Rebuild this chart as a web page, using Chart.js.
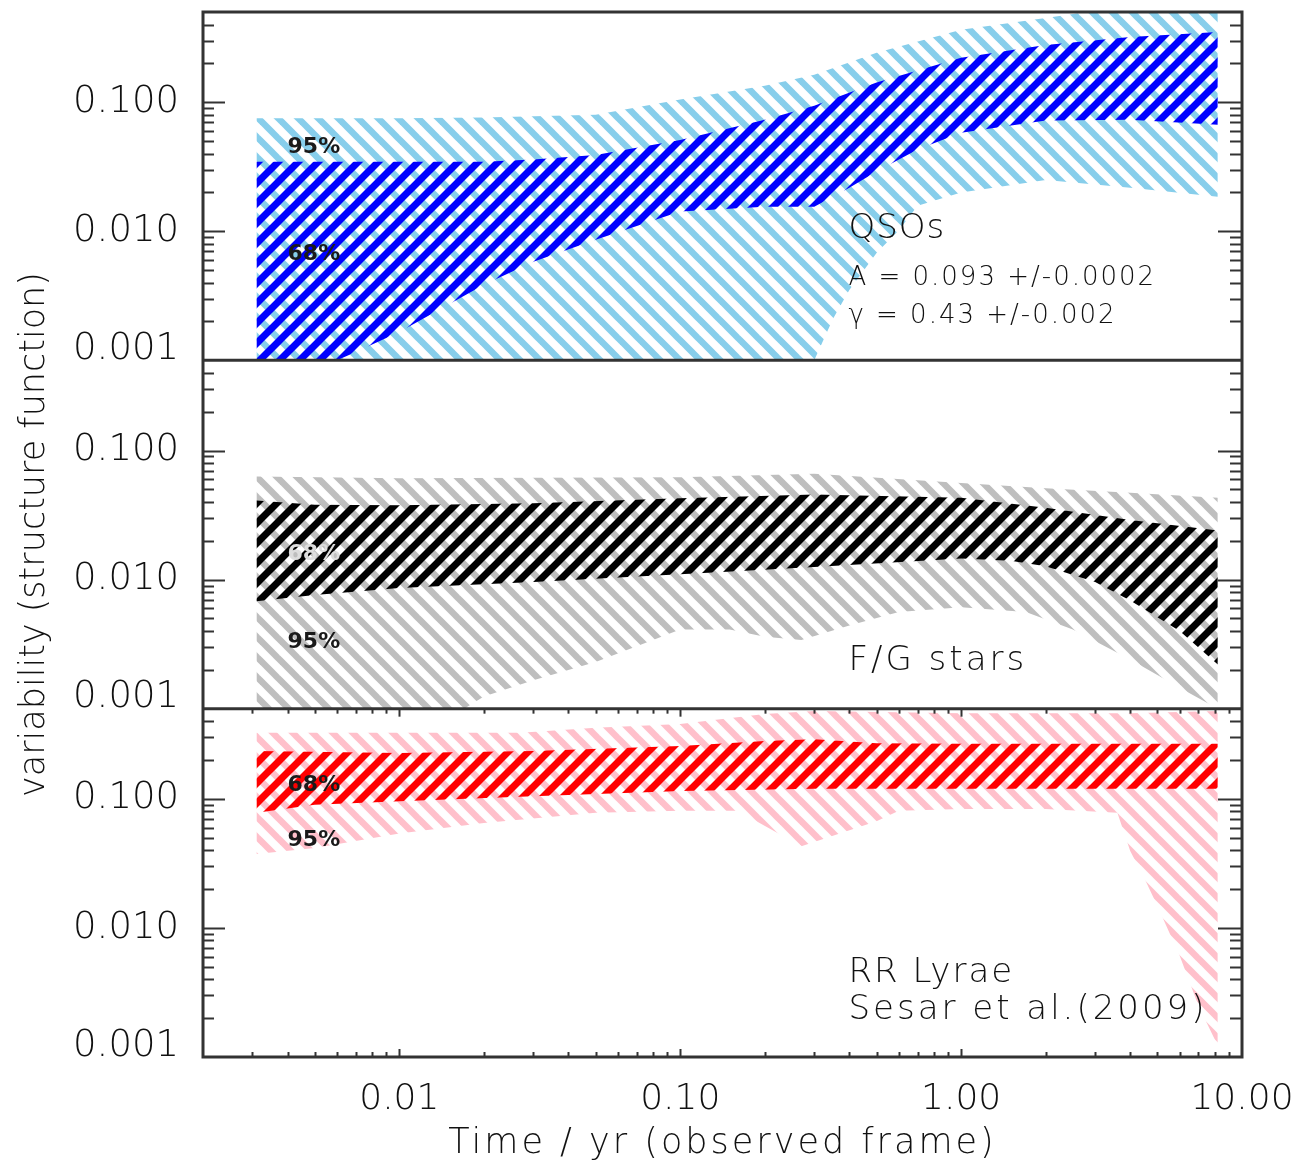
<!DOCTYPE html>
<html><head><meta charset="utf-8">
<script src="https://cdn.jsdelivr.net/npm/chart.js@4"></script>
<style>html,body{margin:0;padding:0;background:#fff}</style>
</head><body>
<canvas id="c" width="1300" height="1162"></canvas>
<script>
// ---------------- data ----------------
const xTickValues = [0.01, 0.1, 1, 10];
const xTickLabels = ['0.01', '0.10', '1.00', '10.00'];
const yTickValues = [0.001, 0.01, 0.1];
const yTickLabels = ['0.001', '0.010', '0.100'];
const X_MIN = 0.002, X_MAX = 10, Y_MIN = 0.001, Y_MAX = 0.5;

// QSOs
const qso95UpperT = [0.0031, 0.01, 0.02, 0.05, 0.1, 0.2, 0.3, 0.5, 1, 2, 2.8, 8.2];
const qso95UpperV = [0.075, 0.075, 0.076, 0.080, 0.105, 0.134, 0.163, 0.242, 0.365, 0.45, 0.5, 0.5];
const qso95LowerT = [0.0031, 0.3, 0.35, 0.4, 0.5, 0.6, 0.7, 1, 2, 4, 8.2];
const qso95LowerV = [0.001, 0.001, 0.0021, 0.0035, 0.0068, 0.0102, 0.0158, 0.020, 0.025, 0.0217, 0.0185];
const qso68UpperT = [0.0031, 0.02, 0.03, 0.05, 0.1, 0.2, 0.3, 0.5, 1, 2, 4, 8.2];
const qso68UpperV = [0.0346, 0.0346, 0.036, 0.039, 0.051, 0.073, 0.094, 0.142, 0.221, 0.278, 0.32, 0.35];
const qso68LowerT = [0.0031, 0.006, 0.007, 0.01, 0.02, 0.03, 0.05, 0.1, 0.2, 0.3, 0.4, 0.5, 0.7, 1, 2, 4, 8.2];
const qso68LowerV = [0.001, 0.001, 0.00116, 0.00166, 0.00385, 0.0058, 0.0086, 0.0142, 0.0155, 0.0155, 0.0217, 0.029, 0.043, 0.058, 0.072, 0.073, 0.067];

// F/G stars
const fg95UpperT = [0.0031, 0.01, 0.1, 0.3, 1, 2, 4, 8.2];
const fg95UpperV = [0.063, 0.061, 0.062, 0.066, 0.056, 0.051, 0.047, 0.043];
const fg95LowerT = [0.0031, 0.017, 0.02, 0.03, 0.05, 0.08, 0.1, 0.15, 0.2, 0.27, 0.4, 0.6, 1, 1.7, 2.5, 4, 6, 8.2];
const fg95LowerV = [0.001, 0.001, 0.00124, 0.00166, 0.0023, 0.0034, 0.0041, 0.0041, 0.0036, 0.0034, 0.0044, 0.0056, 0.0061, 0.0056, 0.0041, 0.0024, 0.00145, 0.001];
const fg68UpperT = [0.0031, 0.005, 0.01, 0.03, 0.1, 0.3, 1, 2, 4, 8.2];
const fg68UpperV = [0.041, 0.038, 0.0376, 0.039, 0.0426, 0.0457, 0.043, 0.036, 0.029, 0.024];
const fg68LowerT = [0.0031, 0.005, 0.01, 0.03, 0.1, 0.3, 1, 1.5, 2, 3, 4, 6, 8.2];
const fg68LowerV = [0.0068, 0.0076, 0.0086, 0.0096, 0.011, 0.0125, 0.0146, 0.014, 0.0127, 0.0096, 0.0069, 0.0040, 0.0022];

// RR Lyrae
const rr95UpperT = [0.0031, 0.027, 0.05, 0.1, 0.2, 0.3, 1, 4, 8.2];
const rr95UpperV = [0.326, 0.326, 0.355, 0.38, 0.455, 0.48, 0.46, 0.46, 0.48];
const rr95LowerT = [0.0031, 0.005, 0.01, 0.02, 0.05, 0.1, 0.16, 0.27, 0.5, 0.6, 1, 2, 3.6, 4, 4.5, 5, 6, 7, 8.2];
const rr95LowerV = [0.0374, 0.0417, 0.054, 0.065, 0.078, 0.081, 0.081, 0.043, 0.067, 0.081, 0.0835, 0.0835, 0.078, 0.0395, 0.024, 0.0148, 0.0061, 0.0025, 0.00122];
const rr68UpperT = [0.0031, 0.01, 0.03, 0.1, 0.2, 0.3, 0.5, 1, 8.2];
const rr68UpperV = [0.235, 0.227, 0.235, 0.257, 0.281, 0.29, 0.27, 0.267, 0.267];
const rr68LowerT = [0.0031, 0.005, 0.01, 0.03, 0.1, 0.3, 8.2];
const rr68LowerV = [0.078, 0.090, 0.096, 0.105, 0.115, 0.12, 0.12];

// ---------------- styling / layout ----------------
const FONT = "'DejaVu Sans', sans-serif";
const TEXT_WEIGHT = 300;
const TEXT_COLOR = '#111';
const AXIS_COLOR = '#333';

function hatch(color, dir, lw) {
  const P = 20, c = document.createElement('canvas');
  c.width = c.height = P;
  const g = c.getContext('2d');
  g.strokeStyle = color; g.lineWidth = lw; g.lineCap = 'square';
  for (const k of [-P, 0, P]) {
    g.beginPath();
    if (dir > 0) { g.moveTo(k, P); g.lineTo(k + P, 0); }
    else { g.moveTo(k, 0); g.lineTo(k + P, P); }
    g.stroke();
  }
  return g.createPattern(c, 'repeat');
}

const datasets = [];
function pts(T, V) { return T.map((t, i) => ({x: t, y: V[i]})); }
function band(axis, lowT, lowV, upT, upV, pattern, order) {
  const base = {yAxisID: axis, xAxisID: 'x', pointRadius: 0, borderWidth: 0,
    borderColor: 'rgba(0,0,0,0)', tension: 0, order};
  datasets.push(Object.assign({}, base, {data: pts(lowT, lowV), fill: false}));
  datasets.push(Object.assign({}, base, {data: pts(upT, upV), fill: '-1', backgroundColor: pattern}));
}
band('yTop', qso95LowerT, qso95LowerV, qso95UpperT, qso95UpperV, hatch('#87CEEB', -1, 6.5), 2);
band('yTop', qso68LowerT, qso68LowerV, qso68UpperT, qso68UpperV, hatch('#0000FF', 1, 7), 1);
band('yMid', fg95LowerT, fg95LowerV, fg95UpperT, fg95UpperV, hatch('#BEBEBE', -1, 6.5), 2);
band('yMid', fg68LowerT, fg68LowerV, fg68UpperT, fg68UpperV, hatch('#000000', 1, 7), 1);
band('yBot', rr95LowerT, rr95LowerV, rr95UpperT, rr95UpperV, hatch('#FFC0CB', -1, 6.5), 2);
band('yBot', rr68LowerT, rr68LowerV, rr68UpperT, rr68UpperV, hatch('#FF0000', 1, 7), 1);

// annotation texts (anchored in data coordinates of each panel)
const notes = [
  {axis: 'yTop', x: 0.004, y: 0.0406, text: '95%', font: 'bold 22px', color: '#1a1a1a', sp: 0},
  {axis: 'yTop', x: 0.004, y: 0.0060, text: '68%', font: 'bold 22px', color: '#1a1a1a', sp: 0},
  {axis: 'yTop', x: 0.397, y: 0.0089, text: 'QSOs', font: TEXT_WEIGHT + ' 34px', color: TEXT_COLOR, sp: 1},
  {axis: 'yTop', x: 0.397, y: 0.00385, text: 'A = 0.093 +/-0.0002', font: TEXT_WEIGHT + ' 26px', color: TEXT_COLOR, sp: 2},
  {axis: 'yTop', x: 0.397, y: 0.00195, text: 'γ = 0.43 +/-0.002', font: TEXT_WEIGHT + ' 26px', color: TEXT_COLOR, sp: 2},
  {axis: 'yMid', x: 0.004, y: 0.0141, text: '68%', font: 'bold 22px', color: '#dddddd', sp: 0},
  {axis: 'yMid', x: 0.004, y: 0.00293, text: '95%', font: 'bold 22px', color: '#1a1a1a', sp: 0},
  {axis: 'yMid', x: 0.397, y: 0.00198, text: 'F/G stars', font: TEXT_WEIGHT + ' 34px', color: TEXT_COLOR, sp: 3},
  {axis: 'yBot', x: 0.004, y: 0.115, text: '68%', font: 'bold 22px', color: '#1a1a1a', sp: 0},
  {axis: 'yBot', x: 0.004, y: 0.0431, text: '95%', font: 'bold 22px', color: '#1a1a1a', sp: 0},
  {axis: 'yBot', x: 0.397, y: 0.00381, text: 'RR Lyrae', font: TEXT_WEIGHT + ' 34px', color: TEXT_COLOR, sp: 2},
  {axis: 'yBot', x: 0.397, y: 0.00197, text: 'Sesar et al.(2009)', font: TEXT_WEIGHT + ' 34px', color: TEXT_COLOR, sp: 3}
];
const xTitle = 'Time / yr (observed frame)';
const yTitle = 'variability (structure function)';

const panelIds = ['yTop', 'yMid', 'yBot'];

const notesPlugin = {
  id: 'notes',
  afterDatasetsDraw(chart) {
    const ctx = chart.ctx, xs = chart.scales.x;
    ctx.save();
    ctx.textAlign = 'left'; ctx.textBaseline = 'alphabetic';
    for (const n of notes) {
      const ys = chart.scales[n.axis];
      ctx.font = n.font + ' ' + FONT;
      ctx.fillStyle = n.color;
      ctx.letterSpacing = n.sp + 'px';
      ctx.fillText(n.text, xs.getPixelForValue(n.x), ys.getPixelForValue(n.y));
    }
    ctx.restore();
  },
  afterDraw(chart) {
    const ctx = chart.ctx, a = chart.chartArea, xs = chart.scales.x;
    ctx.save();
    ctx.strokeStyle = AXIS_COLOR; ctx.lineCap = 'butt';
    const seg = (x1, y1, x2, y2) => { ctx.beginPath(); ctx.moveTo(x1, y1); ctx.lineTo(x2, y2); ctx.stroke(); };
    // y ticks (inward, both sides)
    ctx.lineWidth = 2;
    for (const id of panelIds) {
      const s = chart.scales[id];
      for (let d = -3; d <= -1; d++) {
        for (let m = 1; m <= 9; m++) {
          const v = m * Math.pow(10, d);
          if (v <= Y_MIN || v >= Y_MAX) continue;
          const p = Math.round(s.getPixelForValue(v)) + 0.5;
          const lenL = m === 1 ? 22 : 11, lenR = m === 1 ? 24 : 12;
          seg(a.left, p, a.left + lenL, p);
          seg(a.right, p, a.right - lenR, p);
        }
      }
    }
    // x ticks: bottom axis (up) and top edge of the lowest panel (down)
    const bot = chart.scales.yBot;
    for (let d = -3; d <= 0; d++) {
      for (let m = 1; m <= 9; m++) {
        const v = m * Math.pow(10, d);
        if (v <= X_MIN || v >= X_MAX) continue;
        const p = Math.round(xs.getPixelForValue(v)) + 0.5;
        const len = m === 1 ? 8 : 5;
        seg(p, a.bottom, p, a.bottom - len);
        seg(p, bot.top, p, bot.top + len);
      }
    }
    // frame and panel separators
    ctx.lineWidth = 3;
    ctx.strokeRect(a.left, a.top, a.right - a.left, a.bottom - a.top);
    for (const id of ['yTop', 'yMid']) {
      const y = chart.scales[id].bottom;
      seg(a.left, y, a.right, y);
    }
    // x axis title
    ctx.fillStyle = TEXT_COLOR;
    ctx.font = TEXT_WEIGHT + ' 35px ' + FONT;
    ctx.letterSpacing = '3px';
    ctx.textAlign = 'center'; ctx.textBaseline = 'alphabetic';
    ctx.fillText(xTitle, (a.left + a.right) / 2, 1153);
    ctx.restore();
  }
};

function yAxis(weight, showTitle) {
  return {
    type: 'logarithmic', position: 'left', stack: 'panels', stackWeight: 1, weight,
    min: Y_MIN, max: Y_MAX,
    afterBuildTicks: s => { s.ticks = yTickValues.map(v => ({value: v})); },
    afterFit: s => { s.width = 203; s.paddingTop = 0; s.paddingBottom = 0; },
    grid: {display: false}, border: {display: false},
    ticks: {
      padding: 16, color: TEXT_COLOR, autoSkip: false,
      font: c => (c.index === 0) ? {family: FONT, size: 37, weight: TEXT_WEIGHT, lineHeight: '22px'}
                                 : {family: FONT, size: 37, weight: TEXT_WEIGHT},
      callback: (v, i) => i === 0 ? [yTickLabels[0], ''] : yTickLabels[i]
    },
    title: {display: showTitle, text: yTitle, color: TEXT_COLOR, font: {family: FONT, size: 35, weight: TEXT_WEIGHT},
      padding: {top: 14, bottom: 0}}
  };
}

new Chart(document.getElementById('c'), {
  type: 'line',
  data: {datasets},
  plugins: [notesPlugin],
  options: {
    responsive: false, animation: false, parsing: true,
    layout: {padding: {left: 0, top: 12, right: 58, bottom: 0}},
    plugins: {legend: {display: false}, tooltip: {enabled: false},
      filler: {propagate: false}},
    scales: {
      x: {
        type: 'logarithmic', position: 'bottom', min: X_MIN, max: X_MAX,
        afterBuildTicks: s => { s.ticks = xTickValues.map(v => ({value: v})); },
        afterFit: s => { s.height = 105; s.paddingLeft = 0; s.paddingRight = 0; },
        grid: {display: false}, border: {display: false},
        ticks: {padding: 13, color: TEXT_COLOR, font: {family: FONT, size: 36, weight: TEXT_WEIGHT},
          maxRotation: 0, autoSkip: false, callback: (v, i) => xTickLabels[i]}
      },
      yBot: yAxis(1, false),
      yMid: yAxis(2, true),
      yTop: yAxis(3, false)
    }
  }
});
</script>
</body></html>
